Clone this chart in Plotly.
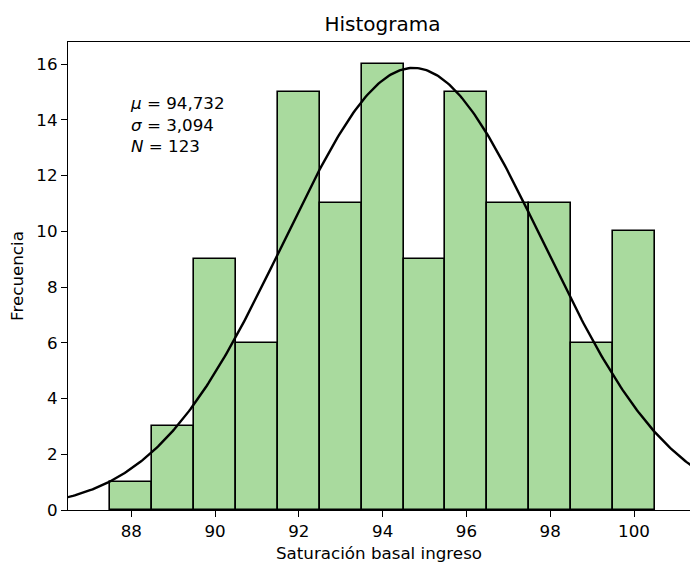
import numpy as np
import plotly.graph_objects as go

bin_centers = [88, 89, 90, 91, 92, 93, 94, 95, 96, 97, 98, 99, 100]
counts = [1, 3, 9, 6, 15, 11, 16, 9, 15, 11, 11, 6, 10]
mu = 94.732
sigma = 3.094
n_obs = 123
bin_width = 1.0
x_ticks = [88, 90, 92, 94, 96, 98, 100]
y_ticks = [0, 2, 4, 6, 8, 10, 12, 14, 16]

xc = np.linspace(85.5, 102.5, 400)
yc = n_obs * bin_width / (sigma * np.sqrt(2 * np.pi)) * np.exp(-0.5 * ((xc - mu) / sigma) ** 2)

fig = go.Figure()
fig.add_trace(go.Bar(x=bin_centers, y=counts, width=bin_width,
                     marker=dict(color="#a9da9e", line=dict(color="black", width=1.6)),
                     showlegend=False, hoverinfo="x+y"))
fig.add_trace(go.Scatter(x=xc, y=yc, mode="lines", line=dict(color="black", width=2.4),
                         showlegend=False, cliponaxis=True))

txt = (f"<i>μ</i> = {mu:.3f}".replace(".", ",") + "<br>" +
       f"<i>σ</i> = {sigma:.3f}".replace(".", ",") + "<br>" +
       f"<i>N</i> = {n_obs}")
fig.add_annotation(x=88.0, y=15.05, xref="x", yref="y", text=txt, showarrow=False,
                   xanchor="left", yanchor="top", align="left", xshift=-3,
                   font=dict(family="DejaVu Sans", size=16.7, color="black"))

fig.update_layout(
    width=690, height=563,
    margin=dict(l=68, r=0, t=42, b=53),
    plot_bgcolor="white", paper_bgcolor="white",
    font=dict(family="DejaVu Sans", color="black"),
    title=dict(text="Histograma", x=382.5/690, xref="container", xanchor="center",
               y=1 - 24/563, yref="container", yanchor="middle",
               font=dict(size=20, family="DejaVu Sans", color="black")),
    bargap=0,
    xaxis=dict(range=[86.49, 101.336], tickvals=x_ticks, ticks="outside", ticklen=6,
               tickwidth=1.3, tickcolor="black", showline=True, linecolor="black",
               linewidth=1.3, mirror=True, showgrid=False, zeroline=False,
               tickfont=dict(size=16.7),
               title=dict(text="Saturación basal ingreso", font=dict(size=16.7), standoff=8)),
    yaxis=dict(range=[0, 16.79], tickvals=y_ticks, ticks="outside", ticklen=6,
               tickwidth=1.3, tickcolor="black", showline=True, linecolor="black",
               linewidth=1.3, showgrid=False, zeroline=False,
               tickfont=dict(size=16.7),
               title=dict(text="Frecuencia", font=dict(size=16.7), standoff=8)),
)

fig.write_html("out.html")
